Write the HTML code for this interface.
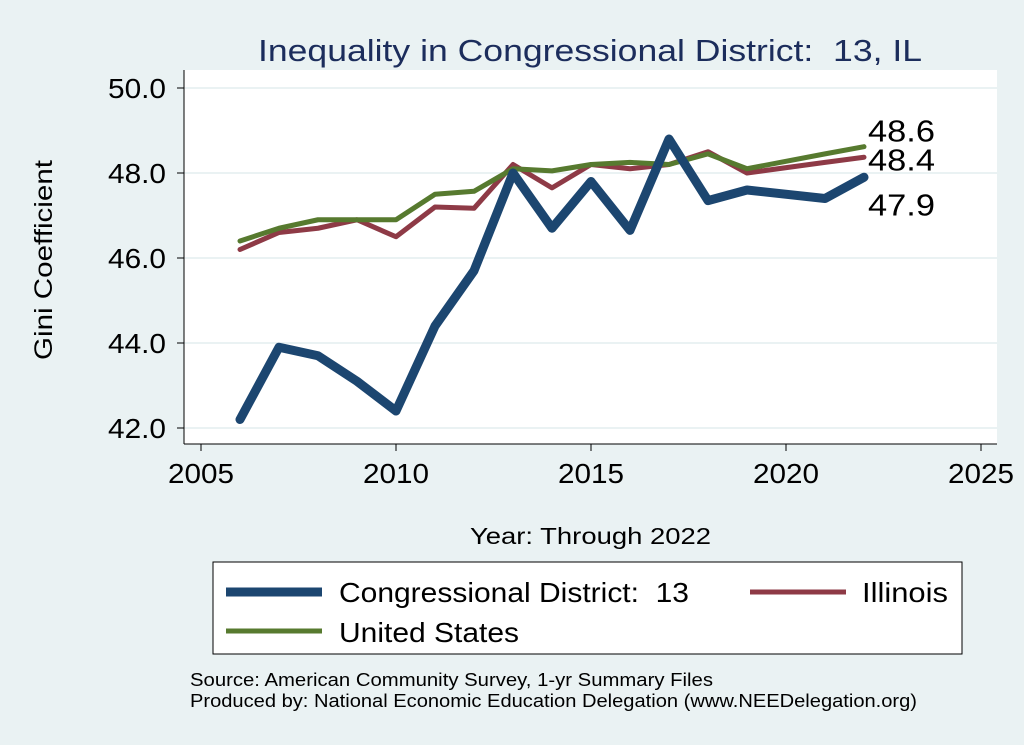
<!DOCTYPE html>
<html><head><meta charset="utf-8"><style>
body{margin:0;background:#eaf2f3;}
svg{display:block;font-family:"Liberation Sans",sans-serif;}
text{white-space:pre;}
</style></head><body>
<svg id="chart" width="1024" height="745" viewBox="0 0 1024 745" xml:space="preserve">
<rect x="0" y="0" width="1024" height="745" fill="#eaf2f3"/>
<text x="258" y="61" font-size="31" fill="#1c2d5c" textLength="664" lengthAdjust="spacingAndGlyphs">Inequality in Congressional District:  13, IL</text>
<rect x="184" y="70" width="813" height="374" fill="#fff"/>
<g id="grid"></g><g id="axes"></g><g id="series"></g>
<text transform="translate(52,260) rotate(-90)" font-size="25" text-anchor="middle" fill="#000" textLength="200" lengthAdjust="spacingAndGlyphs">Gini Coefficient</text>
<text x="470" y="544" font-size="23" fill="#000" textLength="241" lengthAdjust="spacingAndGlyphs">Year: Through 2022</text>
<g>
<rect x="213" y="562" width="749" height="92" fill="#fff" stroke="#000" stroke-width="1"/>
<line x1="226" y1="592" x2="322" y2="592" stroke="#1c4670" stroke-width="9"/>
<text x="339" y="602" font-size="28" textLength="350" lengthAdjust="spacingAndGlyphs">Congressional District:  13</text>
<line x1="750" y1="592" x2="846" y2="592" stroke="#8e3a46" stroke-width="5"/>
<text x="862" y="602" font-size="28" textLength="86" lengthAdjust="spacingAndGlyphs">Illinois</text>
<line x1="226" y1="631" x2="322" y2="631" stroke="#577a2f" stroke-width="5"/>
<text x="339" y="642" font-size="28" textLength="180" lengthAdjust="spacingAndGlyphs">United States</text>
</g>
<text x="190" y="686" font-size="18" textLength="523" lengthAdjust="spacingAndGlyphs">Source: American Community Survey, 1-yr Summary Files</text>
<text x="190" y="707" font-size="18" textLength="727" lengthAdjust="spacingAndGlyphs">Produced by: National Economic Education Delegation (www.NEEDelegation.org)</text>
</svg>
<script>
const years=[2006,2007,2008,2009,2010,2011,2012,2013,2014,2015,2016,2017,2018,2019,2021,2022];
const cd13=[42.2,43.9,43.7,43.1,42.4,44.4,45.7,48.0,46.7,47.8,46.65,48.8,47.35,47.6,47.4,47.9];
const illinois=[46.2,46.6,46.7,46.9,46.5,47.2,47.17,48.2,47.65,48.2,48.1,48.2,48.5,48.0,48.25,48.37];
const us=[46.4,46.7,46.9,46.9,46.9,47.5,47.57,48.1,48.05,48.2,48.25,48.2,48.45,48.1,48.45,48.62];
const yTicks=[42,44,46,48,50];
const xTicks=[2005,2010,2015,2020,2025];
const endLabels=["47.9","48.4","48.6"];
const NS="http://www.w3.org/2000/svg";
const xs=y=>201+(y-2005)*39;
const ys=v=>428-(v-42)*42.5;
function mk(tag,attrs,parent){const e=document.createElementNS(NS,tag);for(const k in attrs)e.setAttribute(k,attrs[k]);document.getElementById(parent).appendChild(e);return e;}
yTicks.forEach(t=>{
 const g=mk('line',{x1:184,x2:997,y1:ys(t),y2:ys(t),stroke:'#eaf2f3','stroke-width':2},'grid');
 
 
 const tk=mk('line',{x1:177,x2:184,y1:ys(t),y2:ys(t),stroke:'#000'},'axes');
 
 
 const tx=mk('text',{x:166,y:ys(t)+10,'font-size':28,'text-anchor':'end',textLength:58,lengthAdjust:'spacingAndGlyphs'},'axes');
 tx.textContent=t.toFixed(1);
 
 
});
xTicks.forEach(t=>{
 const tk=mk('line',{x1:xs(t),x2:xs(t),y1:444,y2:451,stroke:'#000'},'axes');
 
 
 const tx=mk('text',{x:xs(t),y:483,'font-size':28,'text-anchor':'middle',textLength:66,lengthAdjust:'spacingAndGlyphs'},'axes');
 tx.textContent=t;
 
 
});
const ya=mk('line',{x1:184,x2:184,y1:70,y2:444,stroke:'#000'},'axes');


const xa=mk('line',{x1:184,x2:997,y1:444,y2:444,stroke:'#000'},'axes');


function line(vals,color,w,name){
 const p=mk('polyline',{points:vals.map((v,i)=>xs(years[i])+','+ys(v)).join(' '),fill:'none',stroke:color,'stroke-width':w,'stroke-linejoin':'round','stroke-linecap':'round'},'series');
 
 
}
line(illinois,'#8e3a46',5,'illinois-line');
line(us,'#577a2f',5,'us-line');
line(cd13,'#1c4670',9,'cd13-line');
const last=years.length-1;
const lbl=[[cd13,endLabels[0],38,'cd13-end-label'],[illinois,endLabels[1],13,'illinois-end-label'],[us,endLabels[2],-5,'us-end-label']];
lbl.forEach(([arr,txt,dy,name])=>{
 const t=mk('text',{x:xs(years[last])+4,y:ys(arr[last])+dy,'font-size':31,textLength:67,lengthAdjust:'spacingAndGlyphs'},'series');
 t.textContent=txt;
 
 
});
</script>
</body></html>
